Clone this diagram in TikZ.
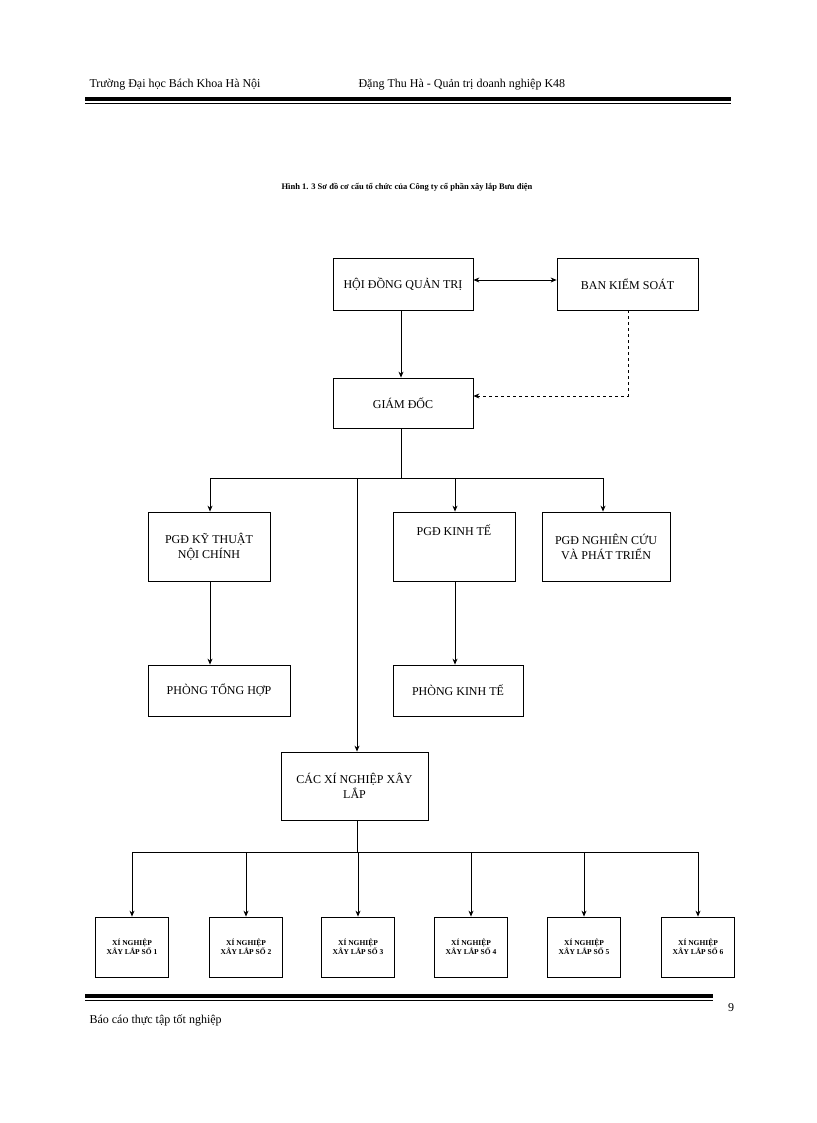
\documentclass[tikz,border=0pt]{standalone}
\usepackage{fontspec}
\setmainfont{Liberation Serif}
\usetikzlibrary{arrows.meta}
\begin{document}
\begin{tikzpicture}[x=1pt,y=-1pt,
  box/.style={draw,thick,align=center,inner sep=0pt,font=\fontsize{12}{15}\selectfont},
  sbox/.style={draw,thick,align=center,inner sep=0pt,minimum width=73,minimum height=60,font=\bfseries\fontsize{7.5}{9}\selectfont},
  arr/.style={-{Stealth[length=6pt,width=5pt]},thick}]
\useasboundingbox (0,0) rectangle (816,1123);
% header
\node[anchor=west,font=\fontsize{12}{14}\selectfont] (h1) at (86,85) {Trường Đại học Bách Khoa Hà Nội};
\node[anchor=west,font=\fontsize{12}{14}\selectfont] (h2) at (355,85) {Đặng Thu Hà - Quản trị doanh nghiệp K48};
\fill (85,97) rectangle (731,101);
\draw[thin] (85,103.5) -- (731,103.5);
\node[font=\bfseries\fontsize{8.5}{10}\selectfont] (title) at (407,187) {Hình 1. 3 Sơ đồ cơ cấu tổ chức của Công ty cổ phần  xây lắp Bưu điện};
% boxes
\node[box,minimum width=140,minimum height=52] (hd) at (403,284) {HỘI ĐỒNG QUẢN TRỊ};
\node[box,minimum width=141,minimum height=52] (bk) at (627.5,284) {BAN KIỂM SOÁT};
\node[box,minimum width=140,minimum height=50] (gd) at (403,403) {GIÁM ĐỐC};
\node[box,minimum width=122,minimum height=69] (p1) at (209,546.5) {PGĐ KỸ THUẬT\\NỘI CHÍNH};
\node[box,minimum width=122,minimum height=69] (p2) at (454,546.5) {PGĐ KINH TẾ\\[18pt]};
\node[box,minimum width=128,minimum height=69] (p3) at (606,546.5) {PGĐ NGHIÊN CỨU\\VÀ PHÁT TRIỂN};
\node[box,minimum width=142,minimum height=51] (pt) at (219,690.5) {PHÒNG TỔNG HỢP};
\node[box,minimum width=130,minimum height=51] (pk) at (458,690.5) {PHÒNG KINH TẾ};
\node[box,minimum width=147,minimum height=68] (xn) at (354.5,786) {CÁC XÍ NGHIỆP XÂY\\LẮP};
\foreach \i/\x in {1/132,2/246,3/358,4/471,5/584,6/698}{
  \node[sbox] (s\i) at (\x,947) {XÍ NGHIỆP\\XÂY LẮP SỐ \i};
}
% connectors
\draw[{Stealth[length=6pt,width=5pt]}-{Stealth[length=6pt,width=5pt]},thick] (hd.east|-0,280) -- (bk.west|-0,280);
\draw[arr] (hd.south-|401,0) -- (gd.north-|401,0);
\coordinate (bd) at (628,396);
\draw[thick,dashed,-{Stealth[length=6pt,width=5pt]}] (bk.south-|628,0) -- (bd) -- (gd.east|-bd);
\coordinate (g1) at (401,478);
\draw[thick] (gd.south-|401,0) -- (g1);
\draw[thick] (210,478) -- (603,478);
\draw[arr] (210,478) -- (p1.north-|210,0);
\draw[arr] (455,478) -- (p2.north-|455,0);
\draw[arr] (603,478) -- (p3.north-|603,0);
\draw[arr] (357,478) -- (xn.north-|357,0);
\draw[arr] (p1.south-|210,0) -- (pt.north-|210,0);
\draw[arr] (p2.south-|455,0) -- (pk.north-|455,0);
\draw[thick] (xn.south-|357,0) -- (357,852);
\draw[thick] (132,852) -- (698,852);
\foreach \i/\x in {1/132,2/246,3/358,4/471,5/584,6/698}{
  \draw[arr] (\x,852) -- (s\i.north);
}
% footer
\fill (85,994) rectangle (713,998);
\draw[thin] (85,1000.5) -- (713,1000.5);
\node[font=\fontsize{12}{14}\selectfont] (pg) at (731,1008) {9};
\node[anchor=west,font=\fontsize{12}{14}\selectfont] (ft) at (86,1020) {Báo cáo thực tập tốt nghiệp};
\end{tikzpicture}
\end{document}
